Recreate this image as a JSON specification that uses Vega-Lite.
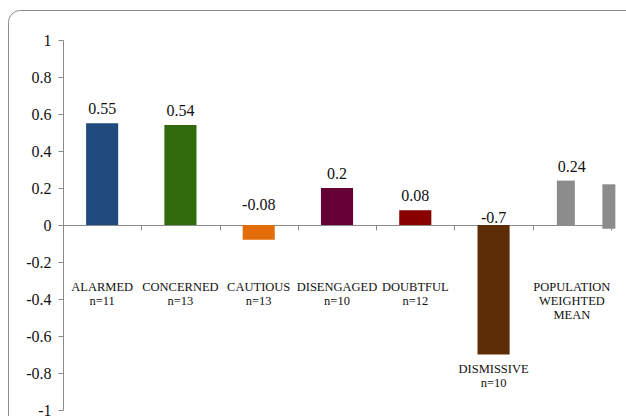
{
  "$schema": "https://vega.github.io/schema/vega-lite/v6.json",
  "width": 630,
  "height": 420,
  "autosize": {"type": "none"},
  "padding": {"left": 8, "top": 10, "right": 0, "bottom": 0},
  "config": {
    "font": "Liberation Serif",
    "text": {"font": "Liberation Serif"},
    "axis": {"labelFont": "Liberation Serif"},
    "view": {"stroke": "#8a8a8a", "strokeWidth": 1, "cornerRadius": 12}
  },
  "datasets": {
    "segments": [
      {"cat": "ALARMED", "n": 11, "value": 0.55},
      {"cat": "CONCERNED", "n": 13, "value": 0.54},
      {"cat": "CAUTIOUS", "n": 13, "value": -0.08},
      {"cat": "DISENGAGED", "n": 10, "value": 0.2},
      {"cat": "DOUBTFUL", "n": 12, "value": 0.08},
      {"cat": "DISMISSIVE", "n": 10, "value": -0.7},
      {"cat": "POPULATION WEIGHTED MEAN", "n": null, "value": 0.24}
    ],
    "overlay": [
      {"cat": "POPULATION WEIGHTED MEAN", "value": 0.22, "base": -0.02}
    ]
  },
  "data": {"name": "segments"},
  "transform": [
    {"calculate": "datum.value >= 0 ? datum.value : (datum.value < -0.3 ? -0.04 : 0.03)", "as": "valuePos"},
    {"calculate": "datum.value < -0.3 ? datum.value - 0.045 : -0.30", "as": "catPos"},
    {"calculate": "isValid(datum.n) ? [datum.cat, 'n=' + datum.n] : split(datum.cat, ' ')", "as": "lines"}
  ],
  "encoding": {
    "x": {
      "field": "cat",
      "type": "nominal",
      "sort": null,
      "scale": {
        "domain": ["ALARMED", "CONCERNED", "CAUTIOUS", "DISENGAGED", "DOUBTFUL", "DISMISSIVE", "POPULATION WEIGHTED MEAN"],
        "range": [55, 603],
        "paddingInner": 0,
        "paddingOuter": 0
      },
      "axis": {
        "orient": "bottom",
        "offset": -205,
        "title": null,
        "labels": false,
        "ticks": true,
        "tickBand": "extent",
        "tickSize": 5,
        "tickColor": "#8a8a8a",
        "domainColor": "#8a8a8a",
        "grid": false
      }
    }
  },
  "layer": [
    {
      "transform": [{"filter": "isValid(datum.n)"}],
      "mark": {"type": "bar", "width": {"band": 0.41}},
      "encoding": {
        "y": {
          "field": "value",
          "type": "quantitative",
          "scale": {"domain": [-1, 1], "range": [400, 30], "nice": false, "zero": false},
          "axis": {
            "orient": "left",
            "offset": -55,
            "title": null,
            "values": [-1, -0.8, -0.6, -0.4, -0.2, 0, 0.2, 0.4, 0.6, 0.8, 1],
            "labelExpr": "'' + datum.value",
            "labelFont": "Liberation Serif",
            "labelFontSize": 16,
            "labelColor": "#111111",
            "labelPadding": 7,
            "tickSize": 5,
            "tickColor": "#8a8a8a",
            "domainColor": "#8a8a8a",
            "grid": false
          }
        },
        "y2": {"datum": 0},
        "color": {
          "field": "cat",
          "type": "nominal",
          "legend": null,
          "scale": {
            "domain": ["ALARMED", "CONCERNED", "CAUTIOUS", "DISENGAGED", "DOUBTFUL", "DISMISSIVE"],
            "range": ["#1f4a7d", "#306a0c", "#e36d0b", "#650037", "#880000", "#5c2d06"]
          }
        }
      }
    },
    {
      "transform": [{"filter": "!isValid(datum.n)"}],
      "mark": {"type": "bar", "width": 18, "xOffset": -6, "color": "#8c8c8c"},
      "encoding": {
        "y": {"field": "value", "type": "quantitative"},
        "y2": {"datum": 0}
      }
    },
    {
      "data": {"name": "overlay"},
      "mark": {"type": "bar", "width": 13, "xOffset": 37, "color": "#8c8c8c"},
      "encoding": {
        "x": {"field": "cat", "type": "nominal"},
        "y": {"field": "value", "type": "quantitative"},
        "y2": {"field": "base"}
      }
    },
    {
      "mark": {"type": "text", "font": "Liberation Serif", "fontSize": 16, "baseline": "alphabetic", "align": "center", "dy": -9, "color": "#111111"},
      "encoding": {
        "y": {"field": "valuePos", "type": "quantitative"},
        "text": {"field": "value", "type": "nominal"}
      }
    },
    {
      "mark": {"type": "text", "font": "Liberation Serif", "fontSize": 12.5, "lineHeight": 14, "baseline": "top", "align": "center", "color": "#111111"},
      "encoding": {
        "y": {"field": "catPos", "type": "quantitative"},
        "text": {"field": "lines"}
      }
    }
  ]
}
